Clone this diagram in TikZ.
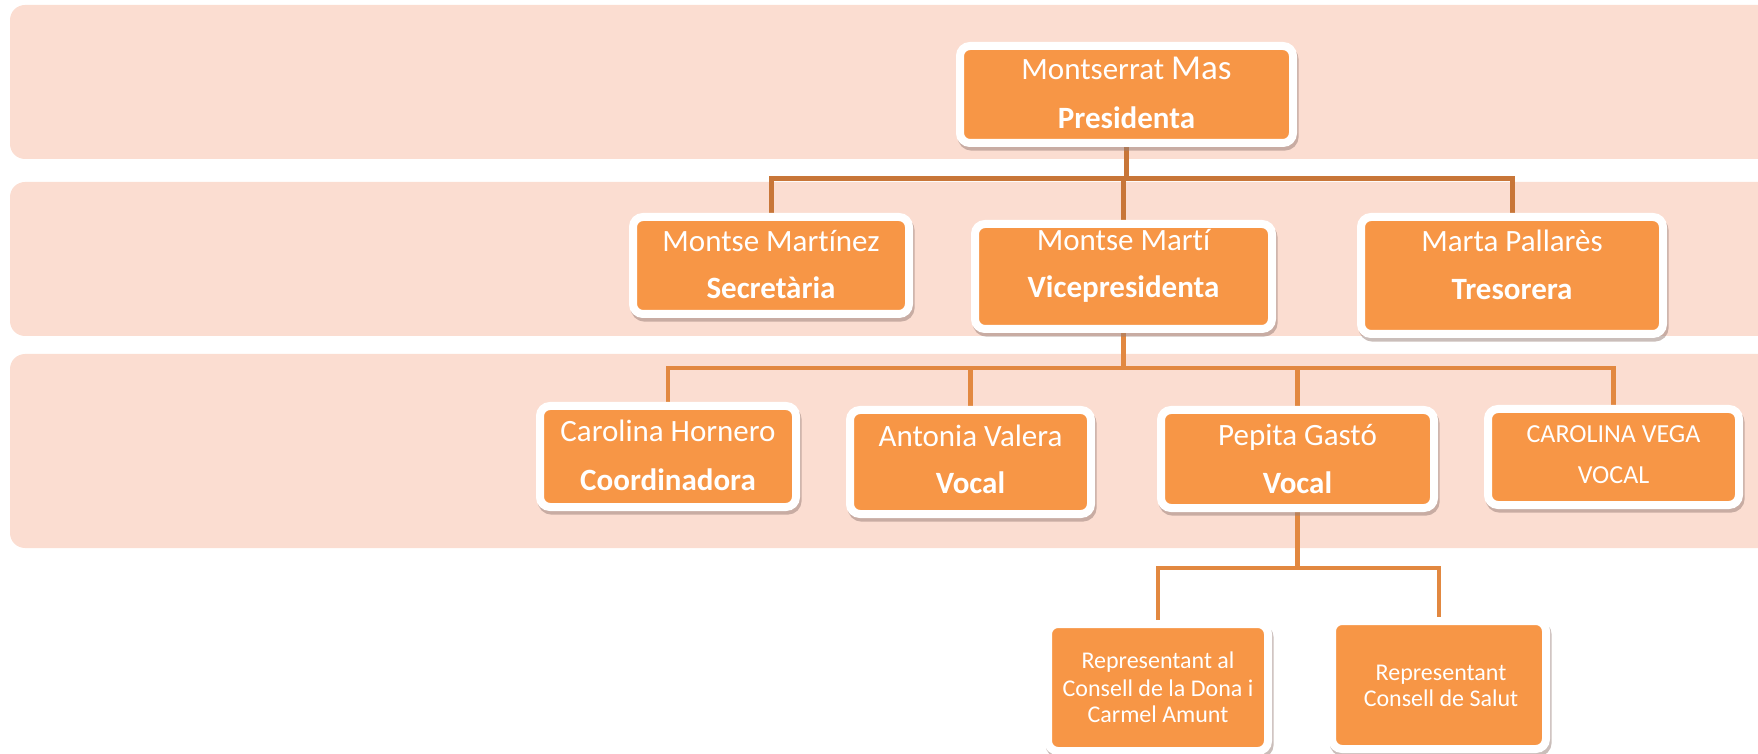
\documentclass[tikz,border=0pt]{standalone}
\usepackage{fontspec}
\setmainfont[Ligatures={NoCommon,NoContextual}]{Carlito}
\usetikzlibrary{shadows}
\definecolor{bandc}{RGB}{251,221,209}
\definecolor{boxfill}{RGB}{247,150,70}
\definecolor{conntop}{RGB}{200,118,56}
\definecolor{connlow}{RGB}{226,136,64}
\definecolor{shadowc}{RGB}{150,125,118}
\pgfdeclarelayer{bandlayer}
\pgfdeclarelayer{connlayer}
\pgfsetlayers{bandlayer,connlayer,main}
\tikzset{
  orgbox/.style={draw=white, line width=4pt, fill=boxfill, rounded corners=5pt, inner sep=0pt,
    drop shadow={shadow xshift=0.8pt, shadow yshift=-1.8pt, fill=shadowc, draw=shadowc, line width=4pt}},
  nametxt/.style={anchor=base, text=white, inner sep=0pt, font=\fontsize{15.5}{18}\selectfont},
  roletxt/.style={anchor=base, text=white, inner sep=0pt, font=\bfseries\fontsize{15.5}{18}\selectfont},
  captxt/.style={anchor=base, text=white, inner sep=0pt, font=\fontsize{13}{15}\selectfont},
  smalltxt/.style={anchor=base, text=white, inner sep=0pt, font=\fontsize{12}{14}\selectfont},
  conna/.style={draw=conntop, line width=2.5pt},
  connb/.style={draw=connlow, line width=2.3pt},
  bandbox/.style={fill=bandc, rounded corners=7.5pt}
}
\begin{document}
\begin{tikzpicture}[x=0.5pt, y=-0.5pt]
\useasboundingbox (0,0) rectangle (1758,754);
% bands
\begin{pgfonlayer}{bandlayer}
\begin{scope}
\clip (0,0) rectangle (1758,754);
\path[bandbox] (10,5) rectangle (1800,159);
\path[bandbox] (10,182) rectangle (1800,336);
\path[bandbox] (10,354) rectangle (1800,548);
\end{scope}
\end{pgfonlayer}

% boxes
\node[orgbox, minimum width=166.5pt, minimum height=48.5pt] (pres) at (1126.5,94.5) {};
\node[orgbox, minimum width=138pt, minimum height=48.5pt] (sec) at (771,265.5) {};
\node[orgbox, minimum width=148.5pt, minimum height=52.5pt] (vice) at (1123.5,276.5) {};
\node[orgbox, minimum width=151pt, minimum height=58.5pt] (tres) at (1512,275.5) {};
\node[orgbox, minimum width=128pt, minimum height=50.5pt] (hor) at (668,456.5) {};
\node[orgbox, minimum width=120.5pt, minimum height=52pt] (val) at (970.5,462) {};
\node[orgbox, minimum width=136.5pt, minimum height=49pt] (pep) at (1297.5,459) {};
\node[orgbox, minimum width=125.5pt, minimum height=48pt] (vega) at (1613.5,457) {};
\node[orgbox, minimum width=110pt, minimum height=63.5pt] (dona) at (1158,687.5) {};
\node[orgbox, minimum width=107pt, minimum height=64pt] (salut) at (1439,685) {};

% texts
\node[nametxt] (pres-n) at (1126.5,80) {Montserrat {\fontsize{17.5}{18}\selectfont Mas}};
\node[roletxt] (pres-r) at (1126.5,129) {Presidenta};
\node[nametxt] (sec-n) at (771,252) {Montse Martínez};
\node[roletxt] (sec-r) at (771,299) {Secretària};
\node[nametxt] (vice-n) at (1123.5,251) {Montse Martí};
\node[roletxt] (vice-r) at (1123.5,298) {Vicepresidenta};
\node[nametxt] (tres-n) at (1512,252) {Marta Pallarès};
\node[roletxt] (tres-r) at (1512,300) {Tresorera};
\node[nametxt] (hor-n) at (668,442) {Carolina Hornero};
\node[roletxt] (hor-r) at (668,490) {Coordinadora};
\node[nametxt] (val-n) at (970.5,447) {Antonia Valera};
\node[roletxt] (val-r) at (970.5,494) {Vocal};
\node[nametxt] (pep-n) at (1297.5,445) {Pepita Gastó};
\node[roletxt] (pep-r) at (1297.5,494) {Vocal};
\node[captxt] (vega-n) at (1613.5,443) {CAROLINA VEGA};
\node[captxt] (vega-r) at (1613.5,483) {VOCAL};
\node[smalltxt] (dona-a) at (1158,668) {Representant al};
\node[smalltxt] (dona-b) at (1158,696) {Consell de la Dona i};
\node[smalltxt] (dona-c) at (1158,722) {Carmel Amunt};
\node[smalltxt] (salut-a) at (1441,680) {Representant};
\node[smalltxt] (salut-b) at (1441,706) {Consell de Salut};

% connectors
\coordinate (bus1) at (0,179);
\coordinate (bus2) at (0,368);
\coordinate (bus3) at (0,568);
\begin{pgfonlayer}{connlayer}
\draw[conna] (pres.south) -- (pres.south |- bus1);
\draw[conna] (sec.north) -- (sec.north |- bus1) -- (tres.north |- bus1) -- (tres.north);
\draw[conna] (vice.north) -- (vice.north |- bus1);
\draw[connb] (vice.south) -- (vice.south |- bus2);
\draw[connb] (hor.north) -- (hor.north |- bus2) -- (vega.north |- bus2) -- (vega.north);
\draw[connb] (val.north) -- (val.north |- bus2);
\draw[connb] (pep.north) -- (pep.north |- bus2);
\draw[connb] (pep.south) -- (pep.south |- bus3);
\draw[connb] (dona.north) -- (dona.north |- bus3) -- (salut.north |- bus3) -- (salut.north);
\end{pgfonlayer}
\end{tikzpicture}
\end{document}
